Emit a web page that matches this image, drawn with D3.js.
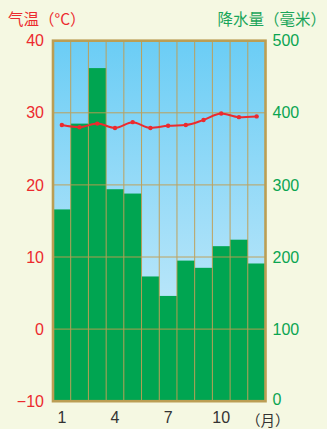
<!DOCTYPE html>
<html>
<head>
<meta charset="utf-8">
<script src="https://cdn.jsdelivr.net/npm/d3@7"></script>
<style>
  html, body { margin: 0; padding: 0; background: #f5f8e2; }
  svg { display: block; }
</style>
</head>
<body>
<svg id="chart" width="327" height="429"></svg>
<script>
// Monthly climate data
const months = [1, 2, 3, 4, 5, 6, 7, 8, 9, 10, 11, 12];
const temperature = [28.3, 28.0, 28.5, 27.9, 28.7, 27.9, 28.2, 28.3, 29.0, 29.9, 29.4, 29.5];
const precipitation = [266, 385, 462, 294, 288, 173, 146, 195, 185, 215, 224, 191];
const tempTicks = [40, 30, 20, 10, 0, -10];
const precipTicks = [500, 400, 300, 200, 100, 0];
const monthTicks = [1, 4, 7, 10];

const svg = d3.select("#chart");
const plot = { left: 53, right: 265.5, top: 40.7, bottom: 401.2 };

const x = d3.scaleBand().domain(months).range([plot.left, plot.right]).padding(0);
const yT = d3.scaleLinear().domain([-10, 40]).range([plot.bottom, plot.top]);
const yP = d3.scaleLinear().domain([0, 500]).range([plot.bottom, plot.top]);

// Sky gradient background
const defs = svg.append("defs");
const grad = defs.append("linearGradient").attr("id", "sky")
  .attr("x1", 0).attr("y1", 0).attr("x2", 0).attr("y2", 1);
grad.append("stop").attr("offset", "0%").attr("stop-color", "#6bcdf5");
grad.append("stop").attr("offset", "100%").attr("stop-color", "#d6effb");

svg.append("rect")
  .attr("x", plot.left).attr("y", plot.top)
  .attr("width", plot.right - plot.left).attr("height", plot.bottom - plot.top)
  .attr("fill", "url(#sky)");

// Precipitation bars
svg.append("g").selectAll("rect").data(months).join("rect")
  .attr("x", d => x(d))
  .attr("y", (d, i) => yP(precipitation[i]))
  .attr("width", x.bandwidth())
  .attr("height", (d, i) => yP(0) - yP(precipitation[i]))
  .attr("fill", "#00a551");

// Grid lines
const grid = svg.append("g").attr("stroke", "#c29c4e").attr("stroke-width", 1).attr("opacity", 0.9);
grid.selectAll("line.v").data(months.slice(1)).join("line")
  .attr("class", "v")
  .attr("x1", d => x(d)).attr("x2", d => x(d))
  .attr("y1", plot.top).attr("y2", plot.bottom);
grid.selectAll("line.h").data(tempTicks.slice(1, -1)).join("line")
  .attr("class", "h")
  .attr("x1", plot.left).attr("x2", plot.right)
  .attr("y1", d => yT(d)).attr("y2", d => yT(d));

// Temperature line
const line = d3.line()
  .x((d, i) => x(months[i]) + x.bandwidth() / 2)
  .y(d => yT(d))
  .curve(d3.curveMonotoneX);
svg.append("path").datum(temperature)
  .attr("d", line)
  .attr("fill", "none")
  .attr("stroke", "#ec2a2e")
  .attr("stroke-width", 2);
svg.append("g").selectAll("circle").data(temperature).join("circle")
  .attr("cx", (d, i) => x(months[i]) + x.bandwidth() / 2)
  .attr("cy", d => yT(d))
  .attr("r", 2.2)
  .attr("fill", "#ec2a2e");

// Frame
svg.append("rect")
  .attr("x", plot.left).attr("y", plot.top)
  .attr("width", plot.right - plot.left).attr("height", plot.bottom - plot.top)
  .attr("fill", "none").attr("stroke", "#bb9e54").attr("stroke-width", 2.6);

// Axes
const font = "Liberation Sans, Arial, sans-serif";
const leftAxis = d3.axisLeft(yT).tickValues(tempTicks).tickSize(0).tickPadding(9);
const gl = svg.append("g").attr("transform", `translate(${plot.left},0)`).call(leftAxis);
gl.select(".domain").remove();
gl.selectAll("text").attr("fill", "#ec2a2e").style("font-family", font).style("font-size", "16px");

const rightAxis = d3.axisRight(yP).tickValues(precipTicks).tickSize(0).tickPadding(7);
const gr = svg.append("g").attr("transform", `translate(${plot.right},0)`).call(rightAxis);
gr.select(".domain").remove();
gr.selectAll("text").attr("fill", "#0aa551").style("font-family", font).style("font-size", "16px");
// lift the bottom label slightly so it clears the month unit below
gr.selectAll(".tick").filter(d => d === 0).select("text").attr("dy", "0.22em");

const bottomAxis = d3.axisBottom(x).tickValues(monthTicks).tickSize(0).tickPadding(10);
const gb = svg.append("g").attr("transform", `translate(0,${plot.bottom})`).call(bottomAxis);
gb.select(".domain").remove();
gb.selectAll("text").attr("fill", "#333").style("font-family", font).style("font-size", "16px");

// Titles
const cjk = "'Noto Sans CJK SC', sans-serif";
svg.append("text").attr("x", 8).attr("y", 25)
  .attr("fill", "#ec2a2e").style("font-family", cjk).style("font-size", "15.5px")
  .text("气温（°C）");
svg.append("text").attr("x", 326).attr("y", 25).attr("text-anchor", "end")
  .attr("fill", "#1aa55a").style("font-family", cjk).style("font-size", "15.5px")
  .text("降水量（毫米）");
svg.append("text").attr("x", 246).attr("y", 426)
  .attr("fill", "#333").style("font-family", cjk).style("font-size", "14.5px")
  .text("（月）");
</script>
</body>
</html>
